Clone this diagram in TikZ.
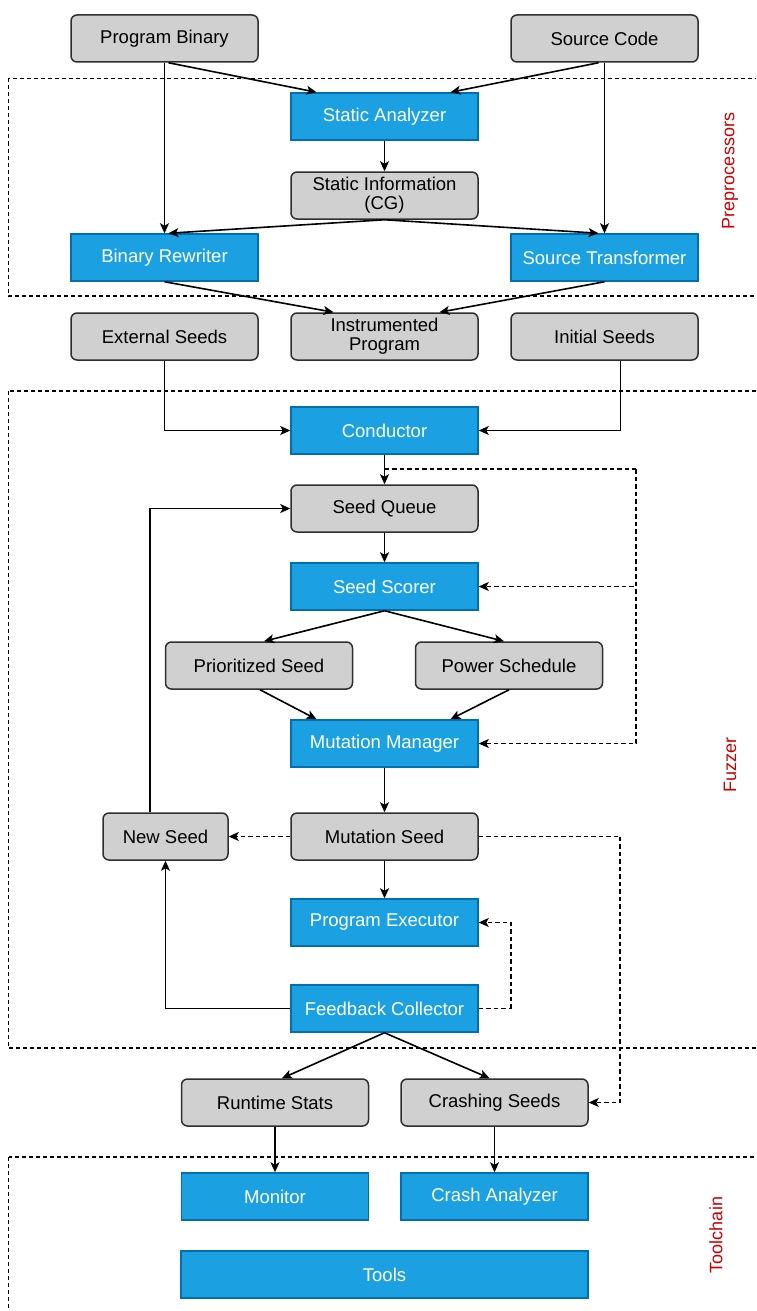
\documentclass[tikz,border=0pt]{standalone}
\usepackage{fontspec}
\setmainfont{Liberation Sans}
\usetikzlibrary{arrows.meta,calc}
\definecolor{bluefill}{RGB}{27,161,226}
\definecolor{blueline}{RGB}{0,110,175}
\definecolor{grayfill}{RGB}{208,208,208}
\definecolor{grayline}{RGB}{45,47,50}
\definecolor{labelred}{RGB}{204,0,0}
\tikzset{
  base/.style={minimum width=187pt,minimum height=47pt,inner sep=0pt,align=center,
    font=\fontsize{18.5}{20}\selectfont,line width=1.5pt},
  gbox/.style={base,fill=grayfill,draw=grayline,rounded corners=6pt},
  bbox/.style={base,fill=bluefill,draw=blueline,text=white},
  conn/.style={line width=1.6pt,-{Stealth[length=10pt,width=9pt,inset=2.5pt]}},
  plainconn/.style={line width=1.6pt},
  dconn/.style={line width=1.5pt,dash pattern=on 4.5pt off 3pt,-{Stealth[length=10pt,width=9pt,inset=2.5pt]}},
  dplain/.style={line width=1.5pt,dash pattern=on 4.5pt off 3pt},
  region/.style={line width=1.2pt,dash pattern=on 4pt off 3pt},
  rlabel/.style={text=labelred,rotate=90,font=\fontsize{18}{20}\selectfont,inner sep=0pt}
}
\begin{document}
\begin{tikzpicture}[x=1pt,y=-1pt]
\useasboundingbox (0,0) rectangle (756,1311);
\clip (0,0) rectangle (756,1311);
\fill[white] (0,0) rectangle (756,1311);

% regions
\draw[region] (8.5,78.5) rectangle (775,296);
\draw[region] (8.5,391) rectangle (775,1048);
\draw[region] (8.5,1157) rectangle (775,1330);
\node[rlabel] (lpre) at (730,171) {Preprocessors};
\node[rlabel] (lfuz) at (730,765) {Fuzzer};
\node[rlabel] (ltool) at (716,1235) {Toolchain};

% nodes
\node[gbox] (pb) at (164.5,38.5) {Program Binary};
\node[gbox] (sc) at (604.5,38.5) {Source Code};
\node[bbox] (sa) at (384.5,116.5) {Static Analyzer};
\node[gbox] (si) at (384.5,195.5) {Static Information\\[-1pt](CG)};
\node[bbox] (br) at (164.5,257.5) {Binary Rewriter};
\node[bbox] (st) at (604.5,257.5) {Source Transformer};
\node[gbox] (es) at (164.5,336.5) {External Seeds};
\node[gbox] (ip) at (384.5,336.5) {Instrumented\\[-1pt]Program};
\node[gbox] (is) at (604.5,336.5) {Initial Seeds};
\node[bbox] (cond) at (384.5,430.5) {Conductor};
\node[gbox] (sq) at (384.5,508.5) {Seed Queue};
\node[bbox] (ss) at (384.5,586.5) {Seed Scorer};
\node[gbox] (ps) at (259,665.5) {Prioritized Seed};
\node[gbox] (pw) at (509,665.5) {Power Schedule};
\node[bbox] (mm) at (384.5,743.5) {Mutation Manager};
\node[gbox,minimum width=125pt] (ns) at (165.5,836.5) {New Seed};
\node[gbox] (ms) at (384.5,836.5) {Mutation Seed};
\node[bbox] (pe) at (384.5,922.5) {Program Executor};
\node[bbox] (fc) at (384.5,1008.5) {Feedback Collector};
\node[gbox] (rs) at (275,1102.5) {Runtime Stats};
\node[gbox] (cs) at (494.5,1102.5) {Crashing Seeds};
\node[bbox] (mon) at (275,1196.5) {Monitor};
\node[bbox] (ca) at (494.5,1196.5) {Crash Analyzer};
\node[bbox,minimum width=407pt] (tools) at (384.5,1274.5) {Tools};

% preprocessors connectors
\draw[conn] (pb.south) -- (br.north);
\draw[conn] ([xshift=4pt]pb.south) -- ([xshift=-68pt]sa.north);
\draw[conn] ([xshift=-6pt]sc.south) -- ([xshift=66pt]sa.north);
\draw[conn] (sc.south) -- (st.north);
\draw[conn] (sa.south) -- (si.north);
\draw[conn] (si.south) -- ([xshift=4pt]br.north);
\draw[conn] (si.south) -- ([xshift=-6pt]st.north);
\draw[conn] (br.south) -- ([xshift=-51pt]ip.north);
\draw[conn] (st.south) -- ([xshift=55pt]ip.north);

% fuzzer connectors
\draw[conn] (es.south) |- (cond.west);
\draw[conn] ([xshift=16pt]is.south) |- (cond.east);
\draw[conn] (cond.south) -- (sq.north);
\coordinate (dtop) at (384.5,469);
\coordinate (dcorner) at (636,469);
\draw[dplain] (dtop) -- (dcorner);
\draw[dconn] (dcorner) |- (ss.east);
\draw[dconn] (dcorner) |- (mm.east);
\draw[conn] (sq.south) -- (ss.north);
\draw[conn] (ss.south) -- ([xshift=5pt]ps.north);
\draw[conn] (ss.south) -- ([xshift=-5pt]pw.north);
\draw[conn] ([xshift=1pt]ps.south) -- ([xshift=-68pt]mm.north);
\draw[conn] (pw.south) -- ([xshift=66pt]mm.north);
\draw[conn] (mm.south) -- (ms.north);
\draw[dconn] (ms.west) -- (ns.east);
\coordinate (msr) at (620,836.5);
\draw[dplain] (ms.east) -- (msr);
\draw[dconn] (msr) |- (cs.east);
\draw[conn] (ms.south) -- (pe.north);
\coordinate (fcr) at (511,1008.5);
\draw[dplain] (fc.east) -- (fcr);
\draw[dconn] (fcr) |- (pe.east);
\draw[conn] (fc.west) -| (ns.south);
\draw[conn] ([xshift=-15.5pt]ns.north) |- (sq.west);
\draw[conn] (fc.south) -- ([xshift=7pt]rs.north);
\draw[conn] (fc.south) -- ([xshift=-5pt]cs.north);
\draw[conn] (rs.south) -- (mon.north);
\draw[conn] (cs.south) -- (ca.north);
\end{tikzpicture}
\end{document}
